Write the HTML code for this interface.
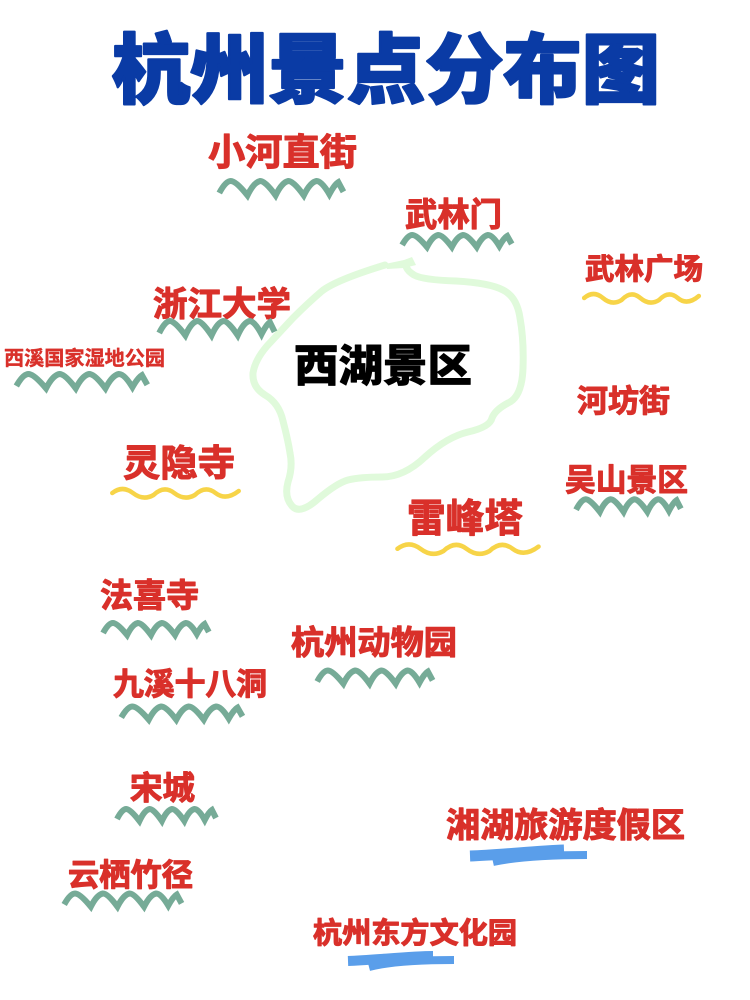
<!DOCTYPE html>
<html lang="zh"><head><meta charset="utf-8"><title>杭州景点分布图</title>
<style>
html,body{margin:0;padding:0;background:#fff}
svg{display:block}
text{font-family:"Liberation Sans","Noto Sans CJK SC",sans-serif;font-weight:700;fill:#d9302a;stroke:#d9302a;stroke-width:1.1;stroke-linejoin:round}
.g{stroke:#76ab97;stroke-width:6;fill:none;vector-effect:non-scaling-stroke;stroke-linejoin:miter}
.y{stroke:#f7d448;stroke-width:4.5;fill:none;vector-effect:non-scaling-stroke;stroke-linecap:round}
.b{stroke:#5a9eea;fill:none;stroke-linecap:butt}
</style></head><body>
<svg width="750" height="1000" viewBox="0 0 750 1000" xmlns="http://www.w3.org/2000/svg">
<defs>
<path id="w" class="g" d="M1 15 Q6 5 10 5 Q14 5 23 17 Q28 6 33 5 Q37 5 45 17 Q50 6 55 5 Q59 5 67 17 Q72 6 77 5 Q81 5 87 16 Q91 8 94 6 L98 14"/>
<path id="v" class="y" d="M1 8 Q9 0 17 8 T33 10 Q41 0 49 8 T65 10 Q73 0 81 8 T99 6"/>
</defs>
<rect width="750" height="1000" fill="#fff"/>

<path d="M385 265 Q336 280 322 291 Q308 303 293 318 Q279 333 267 346 Q255 360 253 373 Q252 387 265 395 Q279 403 283 421 Q288 440 290 453 Q293 467 288 482 Q284 497 292 506 Q300 515 318 499 Q337 483 348 480 Q360 477 382 477 Q404 477 425 457 Q447 437 468 432 Q490 427 492 418 Q495 410 508 403 Q522 397 523 368 Q524 340 520 318 Q517 297 503 290 Q490 283 456 281 Q423 280 414 275 Q406 270 406 265" fill="none" stroke="#e0fadb" stroke-width="7" stroke-linejoin="round" stroke-linecap="round"/>
<path d="M385 264 L404 260 L412 257 L416 265 L404 268 L387 269 Z" fill="#e0fadb"/>

<text x="112" y="97" font-size="76" textLength="548" lengthAdjust="spacingAndGlyphs" style="font-weight:900;fill:#0a3ba5;stroke:#0a3ba5;stroke-width:2.2">杭州景点分布图</text>
<text x="294" y="381" font-size="44" textLength="178" lengthAdjust="spacingAndGlyphs" style="font-weight:900;fill:#000;stroke:#000;stroke-width:.8">西湖景区</text>

<text x="208" y="165" font-size="37" textLength="149" lengthAdjust="spacingAndGlyphs">小河直街</text>
<text x="405" y="226" font-size="33" textLength="97" lengthAdjust="spacingAndGlyphs">武林门</text>
<text x="585" y="279" font-size="29" textLength="118" lengthAdjust="spacingAndGlyphs">武林广场</text>
<text x="153" y="316" font-size="34" textLength="138" lengthAdjust="spacingAndGlyphs">浙江大学</text>
<text x="4" y="365" font-size="20" textLength="161" lengthAdjust="spacingAndGlyphs" style="stroke-width:.4">西溪国家湿地公园</text>
<text x="577" y="412" font-size="31" textLength="93" lengthAdjust="spacingAndGlyphs">河坊街</text>
<text x="123" y="476" font-size="37" textLength="112" lengthAdjust="spacingAndGlyphs">灵隐寺</text>
<text x="565" y="491" font-size="31" textLength="123" lengthAdjust="spacingAndGlyphs">吴山景区</text>
<text x="407" y="532" font-size="39" textLength="116" lengthAdjust="spacingAndGlyphs">雷峰塔</text>
<text x="100" y="607" font-size="33" textLength="99" lengthAdjust="spacingAndGlyphs">法喜寺</text>
<text x="291" y="654" font-size="33" textLength="166" lengthAdjust="spacingAndGlyphs">杭州动物园</text>
<text x="113" y="695" font-size="31" textLength="154" lengthAdjust="spacingAndGlyphs">九溪十八洞</text>
<text x="130" y="799" font-size="32" textLength="65" lengthAdjust="spacingAndGlyphs">宋城</text>
<text x="446" y="837" font-size="34" textLength="239" lengthAdjust="spacingAndGlyphs">湘湖旅游度假区</text>
<text x="68" y="886" font-size="31" textLength="125" lengthAdjust="spacingAndGlyphs">云栖竹径</text>
<text x="313" y="943" font-size="29" textLength="204" lengthAdjust="spacingAndGlyphs">杭州东方文化园</text>

<use href="#w" transform="translate(218 175) scale(1.28 1.2)"/>
<use href="#w" transform="translate(401 230) scale(1.13 1)"/>
<use href="#w" transform="translate(158 315) scale(1.19 1.2)"/>
<use href="#w" transform="translate(15 368) scale(1.35 1.2)"/>
<use href="#w" transform="translate(575 494) scale(1.08 1.05)"/>
<use href="#w" transform="translate(102 618) scale(1.09 1)"/>
<use href="#w" transform="translate(316 665) scale(1.19 1.1)"/>
<use href="#w" transform="translate(120 701) scale(1.25 1.1)"/>
<use href="#w" transform="translate(116 804) scale(1.02 1)"/>
<use href="#w" transform="translate(63 888) scale(1.21 1.1)"/>

<use href="#v" transform="translate(583 290) scale(1.17 1)"/>
<use href="#v" transform="translate(111 485) scale(1.29 1)"/>
<use href="#v" transform="translate(396 540) scale(1.44 1.1)"/>

<path d="M470 856 C500 855 535 851 564 850" class="b" stroke-width="11"/>
<path d="M493 862 C520 856 555 855 587 855" class="b" stroke-width="8"/>
<path d="M348 961 C375 960 410 956 433 956" class="b" stroke-width="10"/>
<path d="M369 967 C392 961 425 960 454 960" class="b" stroke-width="8"/>
</svg>
</body></html>
